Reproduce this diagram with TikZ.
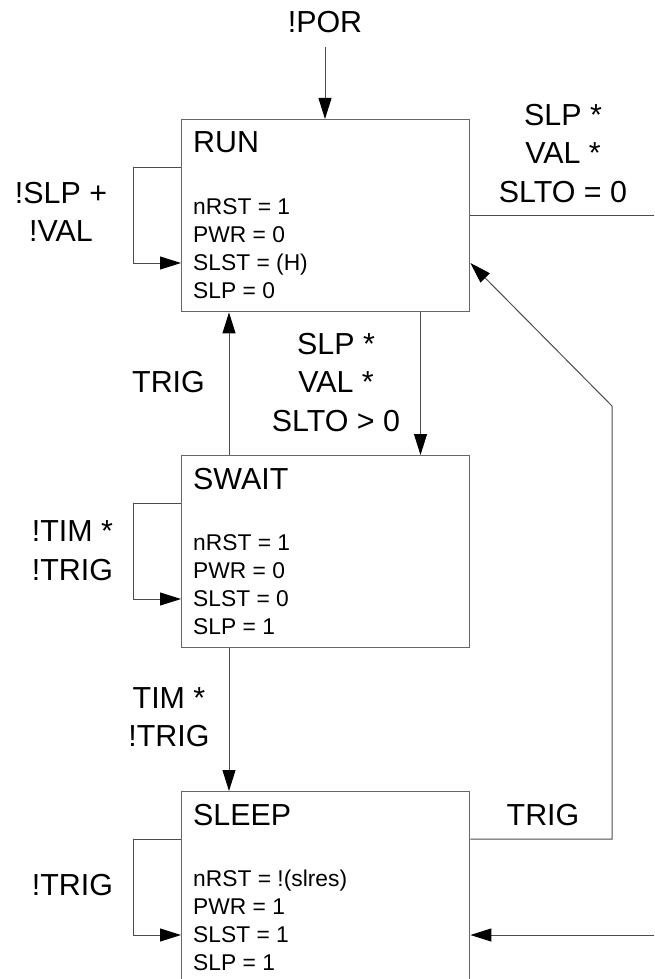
\documentclass[tikz,border=0pt]{standalone}
\usepackage{fontspec}
\setmainfont{Liberation Sans}
\usetikzlibrary{arrows.meta}
\begin{document}
\begin{tikzpicture}[x=1pt,y=1pt,
  state/.style={draw=black!60, line width=1.4pt, minimum width=288pt, minimum height=192pt, inner sep=0pt, anchor=north west},
  big/.style={font=\fontsize{30.4}{38.5}\selectfont, align=center, anchor=base, inner sep=0pt},
  title/.style={font=\fontsize{30.4}{38.5}\selectfont, anchor=base west, inner sep=0pt},
  props/.style={font=\fontsize{22.8}{28}\selectfont, align=left, anchor=base west, inner sep=0pt},
  conn/.style={draw=black!70, line width=1pt},
  arr/.style={conn, -{Triangle[length=21pt,width=13pt,color=black]}}]
\useasboundingbox (0,0) rectangle (654,-979);

% states
\node[state] (run) at (181,-119) {};
\node[state] (swait) at (181,-455) {};
\node[state] (sleep) at (181,-791) {};

% titles (baseline) and properties (baseline of the last line)
\node[title] (runT) at ([xshift=12,yshift=-34]run.north west) {RUN};
\node[props] (runP) at ([xshift=12,yshift=-179]run.north west) {nRST = 1\\PWR = 0\\SLST = (H)\\SLP = 0};
\node[title] (swaitT) at ([xshift=12,yshift=-34]swait.north west) {SWAIT};
\node[props] (swaitP) at ([xshift=12,yshift=-179]swait.north west) {nRST = 1\\PWR = 0\\SLST = 0\\SLP = 1};
\node[title] (sleepT) at ([xshift=12,yshift=-34]sleep.north west) {SLEEP};
\node[props] (sleepP) at ([xshift=12,yshift=-179]sleep.north west) {nRST = !(slres)\\PWR = 1\\SLST = 1\\SLP = 1};

% helper coordinates
\coordinate (por) at (325,-47);
\coordinate (xl) at (229,0);
\coordinate (xr) at (420.5,0);
\coordinate (bend) at (612,-406);
\coordinate (runOut) at (654,-215);
\coordinate (sleepIn) at (654,-935);

% connectors
\draw[arr] (por) -- (por |- run.north);
\draw[arr] ([yshift=-48]run.north west) -- ++(-48,0) |- ([yshift=-144]run.north west);
\draw[arr] ([yshift=-48]swait.north west) -- ++(-48,0) |- ([yshift=-144]swait.north west);
\draw[arr] ([yshift=-48]sleep.north west) -- ++(-48,0) |- ([yshift=-144]sleep.north west);
\draw[arr] (run.south -| xr) -- (swait.north -| xr);
\draw[arr] (swait.north -| xl) -- (run.south -| xl);
\draw[arr] (swait.south -| xl) -- (sleep.north -| xl);
\draw[arr] ([yshift=-48]sleep.north east) -| (bend) -- ([yshift=-144]run.north east);
\draw[conn] (runOut -| run.east) -- (runOut);
\draw[arr] (sleepIn) -- (sleepIn -| sleep.east);

% labels (anchor = baseline of the last line)
\node[big] (lpor) at (325,-33) {!POR};
\node[big] (lrunout) at (563,-202) {SLP *\\VAL *\\SLTO = 0};
\node[big] (lrunloop) at (61,-241.5) {!SLP +\\!VAL};
\node[big] (ltrigA) at (168.5,-392.7) {TRIG};
\node[big] (lrunsw) at (336,-431) {SLP *\\VAL *\\SLTO > 0};
\node[big] (lswloop) at (72.5,-580.2) {!TIM *\\!TRIG};
\node[big] (lswsl) at (169,-746.5) {TIM *\\!TRIG};
\node[big] (ltrigB) at (543,-825) {TRIG};
\node[big] (lslloop) at (72.5,-895) {!TRIG};
\end{tikzpicture}
\end{document}
